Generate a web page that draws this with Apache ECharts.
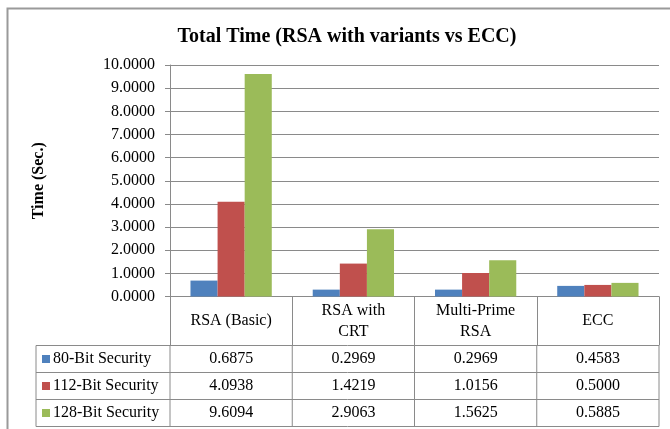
<!DOCTYPE html>
<html>
<head>
<meta charset="utf-8">
<title>Total Time (RSA with variants vs ECC)</title>
<script src="https://cdn.jsdelivr.net/npm/echarts@6/dist/echarts.min.js"></script>
<style>
  html, body { margin: 0; padding: 0; background: #fff; }
  #chart { width: 670px; height: 429px; }
</style>
</head>
<body>
<div id="chart"></div>
<script>
// Timing results per scheme and security level (seconds)
const categories = ['RSA (Basic)', 'RSA with\nCRT', 'Multi-Prime\nRSA', 'ECC'];
const seriesNames = ['80-Bit Security', '112-Bit Security', '128-Bit Security'];
const bit80 = [0.6875, 0.2969, 0.2969, 0.4583];
const bit112 = [4.0938, 1.4219, 1.0156, 0.5000];
const bit128 = [9.6094, 2.9063, 1.5625, 0.5885];
const yMin = 0, yMax = 10, yStep = 1;

const seriesData = [bit80, bit112, bit128];
const colors = ['#4F81BD', '#C0504D', '#9BBB59'];
const serif = '"Liberation Serif", "Times New Roman", serif';
const lineColor = '#8a8a8a';

const chart = echarts.init(document.getElementById('chart'), null, { renderer: 'canvas' });

const gridLeft = 170, gridRight = 11, gridTop = 65, gridBottom = 132.5;
const headerH = 49;          // category header row below the axis
const rowH = 27;             // data table row height
const tableLeft = 36;

chart.setOption({
  animation: false,
  color: colors,
  title: {
    text: 'Total Time (RSA with variants vs ECC)',
    left: 342,
    textAlign: 'center',
    top: 22,
    textStyle: { fontFamily: serif, fontWeight: 'bold', fontSize: 20, color: '#000' }
  },
  grid: { left: gridLeft, right: gridRight, top: gridTop, bottom: gridBottom, containLabel: false },
  xAxis: {
    type: 'category',
    data: categories,
    axisLine: { show: true, lineStyle: { color: lineColor, width: 1 } },
    axisTick: { show: true, interval: 0, length: headerH, alignWithLabel: false, lineStyle: { color: lineColor } },
    axisLabel: {
      interval: 0,
      margin: headerH / 2,
      verticalAlign: 'middle',
      lineHeight: 21,
      fontFamily: serif,
      fontSize: 16,
      color: '#000'
    },
    splitLine: { show: false }
  },
  yAxis: {
    type: 'value',
    min: yMin,
    max: yMax,
    interval: yStep,
    name: 'Time (Sec.)',
    nameLocation: 'middle',
    nameGap: 123,
    nameTextStyle: { fontFamily: serif, fontWeight: 'bold', fontSize: 16, color: '#000' },
    axisLine: { show: true, lineStyle: { color: lineColor } },
    axisTick: { show: true, length: 5, lineStyle: { color: lineColor } },
    axisLabel: {
      margin: 15,
      fontFamily: serif,
      fontSize: 16,
      color: '#000',
      formatter: v => v.toFixed(4)
    },
    splitLine: { show: true, lineStyle: { color: lineColor, width: 1 } }
  },
  series: seriesNames.map((name, i) => ({
    name,
    type: 'bar',
    data: seriesData[i],
    barGap: 0,
    barCategoryGap: '33.5%',
    itemStyle: { color: colors[i] }
  }))
});

// Data table under the axis: legend keys, values and ruled cells
function drawTable() {
  const n = categories.length;
  const centers = categories.map((c, i) => chart.convertToPixel({ xAxisIndex: 0 }, i));
  const band = n > 1 ? centers[1] - centers[0] : 0;
  const xs = [tableLeft].concat(centers.map(c => c - band / 2), [centers[n - 1] + band / 2]);
  const top = chart.convertToPixel({ yAxisIndex: 0 }, yMin) + headerH;
  const right = xs[xs.length - 1];
  const els = [];
  const line = (x1, y1, x2, y2) => els.push({
    type: 'line', silent: true,
    shape: { x1, y1, x2, y2 },
    style: { stroke: lineColor, lineWidth: 1 }
  });
  for (let r = 0; r <= seriesNames.length; r++) {
    line(tableLeft, top + r * rowH, right, top + r * rowH);
  }
  xs.forEach(x => line(x, top, x, top + seriesNames.length * rowH));
  seriesNames.forEach((name, r) => {
    const cy = top + r * rowH + rowH / 2;
    els.push({
      type: 'rect', silent: true,
      shape: { x: 42, y: cy - 4, width: 8, height: 8 },
      style: { fill: colors[r] }
    });
    els.push({
      type: 'text', silent: true,
      x: 53, y: cy,
      style: { text: name, fontFamily: serif, fontSize: 16, fill: '#000', textAlign: 'left', textVerticalAlign: 'middle' }
    });
    seriesData[r].forEach((v, c) => {
      els.push({
        type: 'text', silent: true,
        x: centers[c], y: cy,
        style: { text: v.toFixed(4), fontFamily: serif, fontSize: 16, fill: '#000', textAlign: 'center', textVerticalAlign: 'middle' }
      });
    });
  });
  // chart frame
  els.push({
    type: 'rect', silent: true,
    shape: { x: 7.5, y: 8.5, width: 700, height: 460 },
    style: { fill: 'none', stroke: '#9a9a9a', lineWidth: 2 }
  });
  chart.setOption({ graphic: els });
}
drawTable();
</script>
</body>
</html>
